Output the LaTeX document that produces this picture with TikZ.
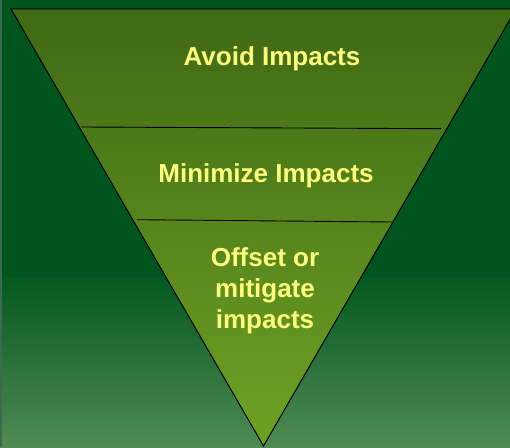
\documentclass[tikz,border=0pt]{standalone}
\usepackage{fontspec}
\setmainfont{Liberation Sans}

\definecolor{bgdark}{RGB}{0,85,30}
\definecolor{bgmid}{RGB}{4,88,32}
\definecolor{bglow}{RGB}{80,138,84}
\definecolor{bgstrip}{RGB}{60,105,80}
\definecolor{tritop}{RGB}{63,105,20}
\definecolor{tribottom}{RGB}{110,162,36}
\definecolor{labelyellow}{RGB}{255,255,125}

\begin{document}
\begin{tikzpicture}[
    x=1pt, y=1pt,
    outline/.style={line width=1pt, draw=black},
    bandline/.style={line width=0.9pt},
    steplabel/.style={font=\fontsize{26}{31}\selectfont\bfseries,
      text=labelyellow, align=center, inner sep=0pt}
  ]

    \useasboundingbox (0,0) rectangle (510,447);
    \clip (0,0) rectangle (510,447);

    % backdrop
    \fill[bgdark] (0,169) rectangle (510,447);
    \shade[top color=bgmid, bottom color=bglow] (0,0) rectangle (510,170);
    \fill[bgstrip] (0,0) rectangle (1.8,447);

    % inverted triangle
    \coordinate (a) at (11,438);
    \coordinate (b) at (263.5,1);
    \coordinate (c) at (516,438);
    \shade[top color=tritop, bottom color=tribottom, outline]
      (a) -- (c) -- (b) -- cycle;

    % band separators
    \coordinate (l1) at (81,320);
    \coordinate (r1) at (441,318.3);
    \coordinate (l2) at (137,227.3);
    \coordinate (r2) at (392,225);
    \draw[bandline] (l1) -- (r1);
    \draw[bandline] (l2) -- (r2);

    \node[steplabel, anchor=base] (avoid) at (272,381) {Avoid Impacts};
    \node[steplabel, anchor=base] (minimize) at (266,264) {Minimize Impacts};
    \node[steplabel, anchor=base] (offset) at (265,119) {Offset or\\ mitigate\\ impacts};

  \end{tikzpicture}
\end{document}
